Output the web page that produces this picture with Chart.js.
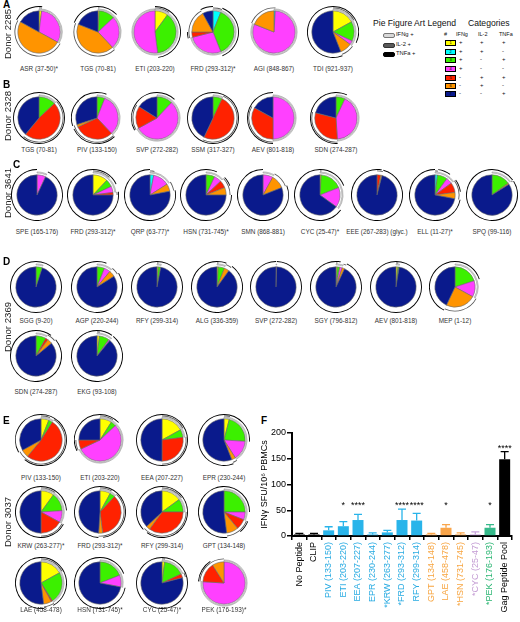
<!DOCTYPE html>
<html><head><meta charset="utf-8">
<script src="https://cdn.jsdelivr.net/npm/chart.js@4.4.0/dist/chart.umd.min.js"></script>
<style>
html,body{margin:0;padding:0;background:#fff}
body{width:520px;height:622px;position:relative;overflow:hidden;font-family:"Liberation Sans",Arial,Helvetica,sans-serif;color:#111}
.plab{position:absolute;font-size:6.4px;color:#333;transform:translate(-50%,-50%);white-space:nowrap}
.donor{position:absolute;font-size:9.6px;color:#222;transform:translate(-50%,-50%) rotate(-90deg);white-space:nowrap}
.panel{position:absolute;font-weight:bold;font-size:10px;color:#000}
.t{position:absolute;white-space:nowrap}
</style></head><body>
<script>
// ---------- DATA ----------
// categories (pie slice order, clockwise from 12 o'clock)
const categoryNumbers = ['1','2','3','4','5','6','7'];
const categoryIFNg = [1,1,1,1,0,0,0];
const categoryIL2  = [1,1,0,0,1,1,0];
const categoryTNFa = [1,0,1,0,1,0,1];

// Donor 2285 (A)
const donor2285Peptides = ['ASR (37-50)*','TGS (70-81)','ETI (203-220)','FRD (293-312)*','AGI (848-867)','TDI (921-937)'];
const donor2285Slices = [
  [2,0,0,31,0,50,17],
  [1,0,12,25,0,43,19],
  [10,0,38,52,0,0,0],
  [0,6,38,27,4,17,8],
  [0,1,0,80,0,19,0],
  [17,0,15,3,0,9,56]
];
// Donor 2328 (B)
const donor2328Peptides = ['TGS (70-81)','PIV (133-150)','SVP (272-282)','SSM (317-327)','AEV (801-818)','SDN (274-287)'];
const donor2328Slices = [
  [0,0,13,0,48,0,39],
  [0,0,6,32,30,2,30],
  [0,0,12,55,17,0,16],
  [0,0,7,0,50,0,43],
  [0,0,0,50,33,0,17],
  [0,0,7,42,30,0,21]
];
// Donor 3641 (C)
const donor3641Peptides = ['SPE (165-176)','FRD (293-312)*','QRP (63-77)*','HSN (731-745)*','SMN (868-881)','CYC (25-47)*','EEE (267-283) (glyc.)','ELL (11-27)*','SPQ (99-116)'];
const donor3641Slices = [
  [0,0,0,7,0,0,93],
  [12,0,6,5,2,0,75],
  [0,3,0,13,0,6,78],
  [0,0,7,6,6,6,75],
  [0,0,0,8,0,11,81],
  [1,0,18,16,0,0,65],
  [0,0,0,0,3,1,96],
  [0,2,8,5,8,5,72],
  [0,0,15,0,0,1,84]
];
// Donor 2369 (D)
const donor2369Peptides = ['SGG (9-20)','AGP (220-244)','RFY (299-314)','ALG (336-359)','SVP (272-282)','SGY (796-812)','AEV (801-818)','MEP (1-12)','SDN (274-287)','EKG (93-108)'];
const donor2369Slices = [
  [0,0,5,0,0,0,95],
  [0,0,6,5,0,5,84],
  [1,0,2,0,0,0,97],
  [1,0,5,0,0,4,90],
  [0,0,0,0.5,0,0,99.5],
  [1,0,2,2,0,2,93],
  [1.5,0,1,0,0,0,97.5],
  [0,0,20,13,0,24,43],
  [0,0,8,0,2,4,86],
  [2,0,8,1,0,0,89]
];
// Donor 3037 (E)
const donor3037Peptides = ['PIV (133-150)','ETI (203-220)','EEA (207-227)','EPR (230-244)','KRW (263-277)*','FRD (293-312)*','RFY (299-314)','GPT (134-148)','LAE (458-478)','HSN (731-745)*','CYC (25-47)*','PEK (176-193)*'];
const donor3037Slices = [
  [6,0,3,0,52,6,33],
  [9,0,4,55,7,0,25],
  [17,0,6,0,27,0,50],
  [4,0,22,15,0,3,56],
  [10,0,14,9,17,0,50],
  [8,0,4,0,36,3,49],
  [15,0,10,0,35,3,37],
  [0,0,25,6,8,9,52],
  [17,0,24,0,1,6,52],
  [0,0,19,9,0,0,72],
  [2,0,16,0,3,0,79],
  [0,0,0,76,15,9,0]
];

// Panel F bar chart
const barLabels = ['No Peptide','CLIP','PIV (133-150)','ETI (203-220)','EEA (207-227)','EPR (230-244)','*KRW (263-277)','*FRD (293-312)','RFY (299-314)','GPT (134-148)','LAE (458-478)','*HSN (731-745)','*CYC (25-47)','*PEK (176-193)','Gag Peptide Pool'];
const barMeans  = [3,3,11,19,31,3,7,31,30,3,16,3,3,16,149];
const barErrors = [2,2,7,9,11,3,4,21,14,2,6,3,5,6,15];
const barGroups = ['ctrl','ctrl','blue','blue','blue','blue','blue','blue','blue','orange','orange','orange','purple','green','ctrl'];
const sigMarks  = ['','','','*','****','','','****','****','','*','','','*','****'];
const yTicks = [0,50,100,150,200];

// ---------- STYLE / LAYOUT ----------
const sliceColors = ['#ffff00','#00ffff','#3cf000','#ff40ff','#ff2200','#ff9400','#0a1a8c'];
const groupColors = {ctrl:'#000000', blue:'#29b4ea', orange:'#f9a54a', purple:'#c9a3de', green:'#35b98a'};
const groupTextColors = {ctrl:'#000000', blue:'#29abe2', orange:'#f7a541', purple:'#c39bd3', green:'#2bb673'};

Chart.defaults.font.family = '"Liberation Sans", Arial, Helvetica, sans-serif';
Chart.defaults.animation = false;

function add(html){ document.body.insertAdjacentHTML('beforeend', html); }

function collapse(values, flags){
  const data=[], on=[];
  values.forEach((v,i)=>{
    if(v<=0) return;
    const f = !!flags[i];
    if(on.length && on[on.length-1]===f) data[data.length-1]+=v;
    else { data.push(v); on.push(f); }
  });
  return {data,on};
}

function makePie(cx, cy, values, gap, pieW){
  const S = 52;
  const c = document.createElement('canvas');
  c.width=S; c.height=S;
  c.style.cssText = `position:absolute;left:${cx-S/2}px;top:${cy-S/2}px;width:${S}px;height:${S}px`;
  document.body.appendChild(c);
  const ringSpec = [
    {flags:categoryTNFa, color:'#000000', border:'#000000', bw:0, weight:0.9},
    null,
    {flags:categoryIL2, color:'#5a5a5a', border:'#3a3a3a', bw:0, weight:0.9},
    null,
    {flags:categoryIFNg, color:'#dcdcdc', border:'#8a8a8a', bw:0.5, weight:1.1},
    null
  ];
  const spacerW = [0,0.55,0,0.55,0,gap];
  const datasets = ringSpec.map((r,k)=>{
    if(!r) return {data:[1], backgroundColor:['rgba(0,0,0,0)'], borderWidth:0, weight:spacerW[k]};
    const {data,on} = collapse(values, r.flags);
    return {data, weight:r.weight,
      backgroundColor: on.map(f=>f?r.color:'rgba(0,0,0,0)'),
      borderColor: on.map(f=>f?r.border:'rgba(0,0,0,0)'),
      borderWidth: on.map(f=>f?r.bw:0)};
  });
  datasets.push({data:values, weight:pieW, backgroundColor:sliceColors,
    borderColor:'#6a6a6a', borderWidth: values.map(v=>v>0?0.6:0)});
  new Chart(c, {type:'pie', data:{labels:categoryNumbers, datasets},
    options:{responsive:false, animation:false, events:[], layout:{padding:0},
      plugins:{legend:{display:false}, tooltip:{enabled:false}}}});
}

// rows of pies: positions
const pieRows = [
  {names:donor2285Peptides, slices:donor2285Slices, from:0, to:6, xs:[39,98,155,213,274,333], y:32, ly:68, gap:0.9, pw:21.5},
  {names:donor2328Peptides, slices:donor2328Slices, from:0, to:6, xs:[39,97,157,213,273,336], y:118, ly:149, gap:0.9, pw:21.5},
  {names:donor3641Peptides, slices:donor3641Slices, from:0, to:9, xs:[37,93,150,206,263,320,377,435,492], y:195, ly:231, gap:1.8, pw:20},
  {names:donor2369Peptides, slices:donor2369Slices, from:0, to:8, xs:[36,97,157,217,276,336,396,455], y:287, ly:320, gap:1.8, pw:20},
  {names:donor2369Peptides, slices:donor2369Slices, from:8, to:10, xs:[36,97], y:356, ly:391, gap:1.8, pw:20},
  {names:donor3037Peptides, slices:donor3037Slices, from:0, to:4, xs:[41,100,162,224], y:440, ly:477, gap:0.9, pw:21.5},
  {names:donor3037Peptides, slices:donor3037Slices, from:4, to:8, xs:[41,100,162,224], y:512, ly:545, gap:0.9, pw:21.5},
  {names:donor3037Peptides, slices:donor3037Slices, from:8, to:12, xs:[41,100,162,224], y:583, ly:609, gap:0.9, pw:21.5}
];
pieRows.forEach(r=>{
  for(let i=r.from;i<r.to;i++){
    const x = r.xs[i-r.from];
    makePie(x, r.y, r.slices[i], r.gap, r.pw);
    add(`<div class="plab" style="left:${x}px;top:${r.ly}px">${r.names[i]}</div>`);
  }
});

// panel letters & donor labels
add(`<div class="panel" style="left:3px;top:-1px">A</div>`);
add(`<div class="panel" style="left:3px;top:79px">B</div>`);
add(`<div class="panel" style="left:13px;top:159px">C</div>`);
add(`<div class="panel" style="left:3px;top:256px">D</div>`);
add(`<div class="panel" style="left:3px;top:415px">E</div>`);
add(`<div class="panel" style="left:261px;top:415px">F</div>`);
[['Donor 2285',34],['Donor 2328',116],['Donor 3641',193],['Donor 2369',327],['Donor 3037',522]].forEach(([t,y])=>{
  add(`<div class="donor" style="left:7px;top:${y}px">${t}</div>`);
});

// Legend
add(`<div class="t" style="left:373px;top:18px;font-size:8.6px">Pie Figure Art Legend</div>`);
add(`<div class="t" style="left:468px;top:18px;font-size:8.6px">Categories</div>`);
const arcLegend = [['IFNg +','#d8d8d8','#777'],['IL-2 +','#5a5a5a','#333'],['TNFa +','#000','#000']];
arcLegend.forEach(([t,bg,bd],k)=>{
  const y = [35,45,54][k];
  add(`<div style="position:absolute;left:383px;top:${y-2.5}px;width:10px;height:3px;background:${bg};border:1px solid ${bd};border-radius:2px"></div>`);
  add(`<div class="t" style="left:396px;top:${y-4}px;font-size:5.8px">${t}</div>`);
});
add(`<div class="t" style="left:444px;top:31px;font-size:5.5px">#</div>`);
add(`<div class="t" style="left:456px;top:31px;font-size:5.5px">IFNg</div>`);
add(`<div class="t" style="left:478px;top:31px;font-size:5.5px">IL-2</div>`);
add(`<div class="t" style="left:499px;top:31px;font-size:5.5px">TNFa</div>`);
const rowYs = [43.3,51.7,60,69,77.7,86,94.3];
categoryNumbers.forEach((n,i)=>{
  const y=rowYs[i];
  add(`<div style="position:absolute;left:445px;top:${y-3}px;width:9px;height:4px;background:${sliceColors[i]};border:1px solid #000;font-size:4px;line-height:4px;text-align:center;color:#000">${n}</div>`);
  const s = f=>f?'+':'-';
  add(`<div class="t" style="left:459px;top:${y-4}px;font-size:6px">${s(categoryIFNg[i])}</div>`);
  add(`<div class="t" style="left:480px;top:${y-4}px;font-size:6px">${s(categoryIL2[i])}</div>`);
  add(`<div class="t" style="left:502px;top:${y-4}px;font-size:6px">${s(categoryTNFa[i])}</div>`);
});

// ---------- BAR CHART (F) ----------
const bc = document.createElement('canvas');
bc.width=270; bc.height=197;
bc.style.cssText='position:absolute;left:250px;top:425px;width:270px;height:197px';
document.body.appendChild(bc);

const errPlugin = {
  id:'errbars',
  afterDatasetsDraw(chart){
    const {ctx, scales:{y}} = chart;
    const meta = chart.getDatasetMeta(0);
    ctx.save();
    meta.data.forEach((bar,i)=>{
      const col = groupColors[barGroups[i]];
      const base = y.getPixelForValue(barMeans[i]);
      const top = y.getPixelForValue(barMeans[i]+barErrors[i]);
      ctx.strokeStyle = col; ctx.lineWidth = 1.3;
      ctx.beginPath();
      ctx.moveTo(bar.x, base); ctx.lineTo(bar.x, top);
      ctx.moveTo(bar.x-4, top); ctx.lineTo(bar.x+4, top);
      ctx.stroke();
      if(sigMarks[i]){
        const lvl = Math.max(barMeans[i]+barErrors[i]+10, 64);
        ctx.fillStyle='#000';
        ctx.font='9px "Liberation Sans", Arial, sans-serif';
        ctx.textAlign='center'; ctx.textBaseline='middle';
        ctx.fillText(sigMarks[i], bar.x, y.getPixelForValue(lvl)+2);
      }
    });
    ctx.restore();
  }
};

new Chart(bc, {
  type:'bar',
  data:{labels:barLabels, datasets:[{data:barMeans,
    backgroundColor: barGroups.map(g=>groupColors[g]),
    borderWidth:0, barPercentage:0.75, categoryPercentage:1}]},
  options:{responsive:false, animation:false, events:[],
    layout:{padding:{top:8,right:8,left:0,bottom:0}},
    plugins:{legend:{display:false}, tooltip:{enabled:false}},
    scales:{
      x:{
        grid:{display:true, drawOnChartArea:false, drawTicks:true, tickLength:4, color:'#000', lineWidth:1.5},
        border:{display:true, color:'#000', width:2},
        ticks:{autoSkip:false, minRotation:90, maxRotation:90, padding:2,
          font:{size:9}, color:(ctx)=>groupTextColors[barGroups[ctx.index]] || '#000'},
        afterFit:(s)=>{ s.height = 86; }
      },
      y:{
        min:0, max:200,
        afterBuildTicks:(s)=>{ s.ticks = yTicks.map(v=>({value:v})); },
        grid:{display:true, drawOnChartArea:false, drawTicks:true, tickLength:5, color:'#000', lineWidth:1.5},
        border:{display:true, color:'#000', width:2},
        ticks:{font:{size:9}, color:'#000', padding:1},
        title:{display:true, text:'IFNγ SFU/10⁶ PBMCs', font:{size:9}, color:'#000', padding:{top:9,bottom:0}},
        afterFit:(s)=>{ s.width = 42; }
      }
    }
  },
  plugins:[errPlugin]
});
</script>
</body></html>
